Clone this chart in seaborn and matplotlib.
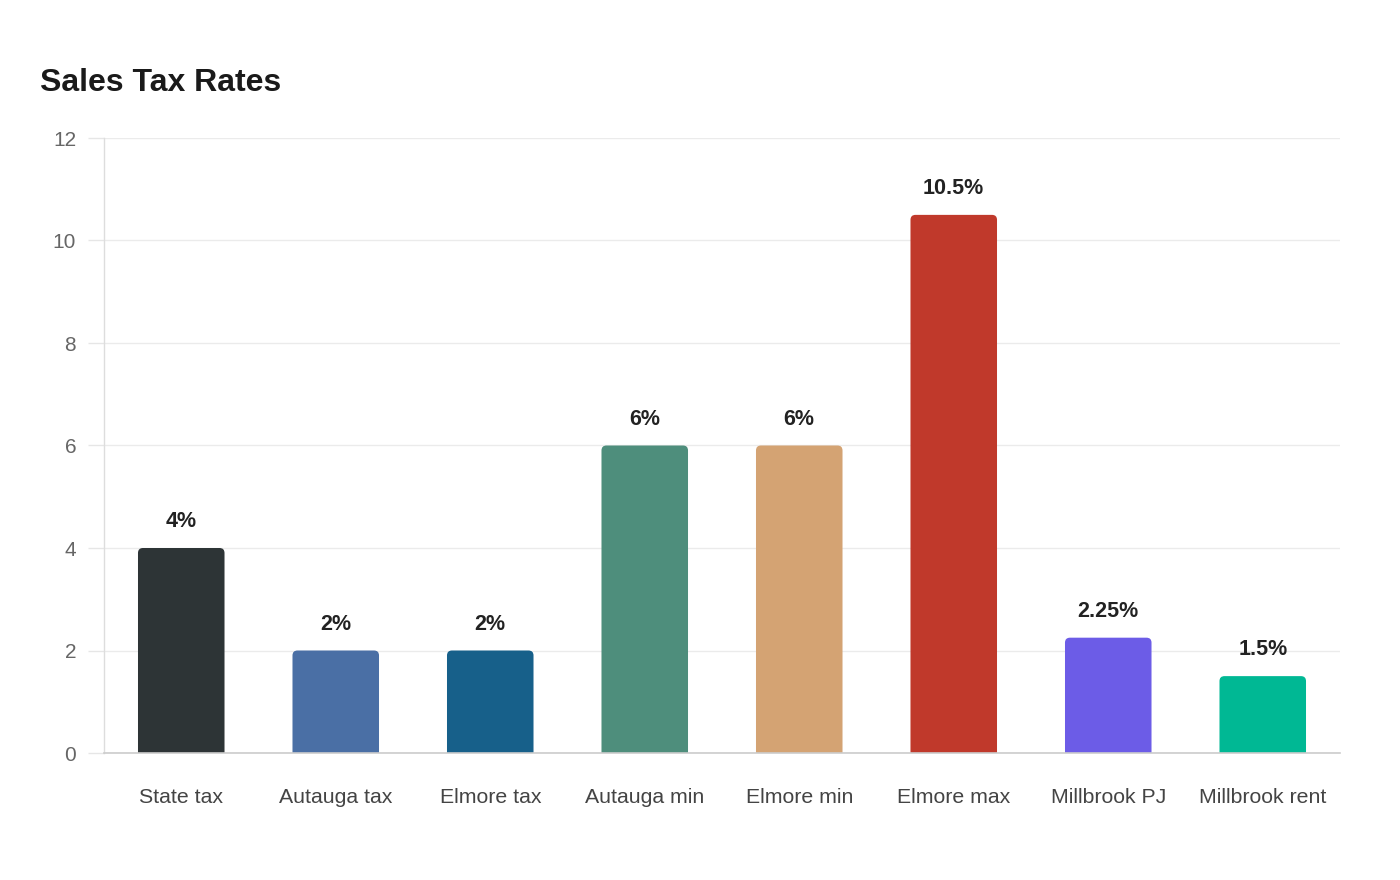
import matplotlib
matplotlib.use("Agg")
import matplotlib.pyplot as plt
from matplotlib.patches import PathPatch
from matplotlib.path import Path
import pandas as pd
import seaborn as sns

# chart data
categories = ['State tax', 'Autauga tax', 'Elmore tax', 'Autauga min',
              'Elmore min', 'Elmore max', 'Millbrook PJ', 'Millbrook rent']
rates = [4, 2, 2, 6, 6, 10.5, 2.25, 1.5]
rate_labels = ['4%', '2%', '2%', '6%', '6%', '10.5%', '2.25%', '1.5%']
bar_colors = ['#2d3436', '#4a6fa5', '#17608a', '#4e8e7c',
              '#d4a373', '#c0392b', '#6c5ce7', '#00b894']
y_ticks = [0, 2, 4, 6, 8, 10, 12]

df = pd.DataFrame({'category': categories, 'rate': rates})

sns.set_style('white')
plt.rcParams['font.family'] = ['Liberation Sans', 'DejaVu Sans']

fig = plt.figure(figsize=(14, 8.8), dpi=100)
ax = fig.add_axes([104 / 1400, 1 - 753 / 880, 1236 / 1400, 615 / 880])

sns.barplot(data=df, x='category', y='rate', hue='category',
            palette=bar_colors, width=0.56, legend=False, ax=ax,
            saturation=1)

ax.set_ylim(0, 12)
ax.set_xlim(-0.5, len(categories) - 0.5)
ax.set_yticks(y_ticks)

# swap the square bars for ones with rounded top corners
radius_px = 5
rx = radius_px * len(categories) / 1236
ry = radius_px * 12 / 615
for patch in list(ax.patches):
    x0, w, h = patch.get_x(), patch.get_width(), patch.get_height()
    x1 = x0 + w
    verts = [(x0, 0), (x0, h - ry), (x0, h), (x0 + rx, h),
             (x1 - rx, h), (x1, h), (x1, h - ry), (x1, 0), (x0, 0)]
    codes = [Path.MOVETO, Path.LINETO, Path.CURVE3, Path.CURVE3,
             Path.LINETO, Path.CURVE3, Path.CURVE3, Path.LINETO,
             Path.CLOSEPOLY]
    ax.add_patch(PathPatch(Path(verts, codes), facecolor=patch.get_facecolor(),
                           edgecolor='none', zorder=patch.get_zorder()))
    patch.set_visible(False)

# value labels
for i, (v, lab) in enumerate(zip(rates, rate_labels)):
    ax.annotate(lab, (i, v), xytext=(0, 15), textcoords='offset points',
                ha='center', va='baseline', fontsize=15.5, fontweight='bold',
                color='#222222')

ax.grid(axis='y', color='#ebebeb', linewidth=1)
ax.set_axisbelow(True)
for s in ['top', 'right']:
    ax.spines[s].set_visible(False)
ax.spines['left'].set_color('#dddddd')
ax.spines['left'].set_linewidth(1)
ax.spines['bottom'].set_color('#cccccc')
ax.spines['bottom'].set_linewidth(1.2)

ax.tick_params(axis='y', left=True, length=11.5, width=1, color='#e6e6e6',
               pad=8.5, labelsize=15, labelcolor='#666666')
ax.tick_params(axis='x', bottom=False, length=0, pad=25, labelsize=15.3,
               labelcolor='#444444')
ax.set_xlabel('')
ax.set_ylabel('')

fig.text(40 / 1400, 1 - 91 / 880, 'Sales Tax Rates', fontsize=23,
         fontweight='bold', color='#1a1a1a', ha='left', va='baseline')

fig.savefig('out.png', dpi=100, facecolor='white')
